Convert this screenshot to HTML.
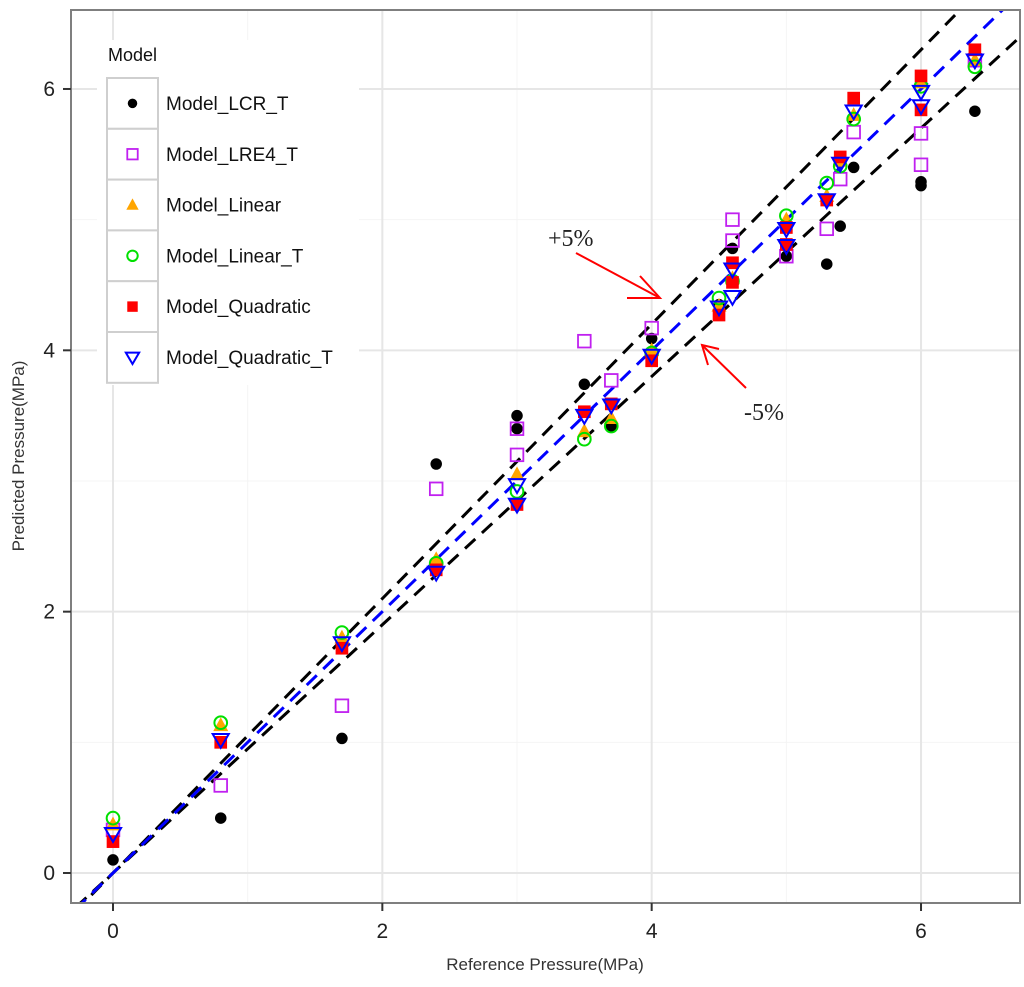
<!DOCTYPE html>
<html><head><meta charset="utf-8"><style>
body{margin:0;background:#fff}
svg{display:block;font-family:"Liberation Sans",sans-serif}
</style></head><body>
<svg id="chart" width="1024" height="987" viewBox="0 0 1024 987" xmlns="http://www.w3.org/2000/svg">
<g id="grid"></g>
<g id="lines"></g>
<g id="pts"></g>
<rect x="71" y="10" width="949" height="893" fill="none" stroke="#7f7f7f" stroke-width="2"/>
<g id="ticks"></g>
<text x="545" y="970" text-anchor="middle" font-size="17" fill="#333">Reference Pressure(MPa)</text>
<text transform="translate(24,456) rotate(-90)" text-anchor="middle" font-size="17" fill="#333">Predicted Pressure(MPa)</text>
<g>
<text x="548" y="246" font-family="Liberation Serif,serif" font-size="24" fill="#222">+5%</text>
<line x1="576" y1="253" x2="660" y2="298" stroke="red" stroke-width="2"/>
<polyline points="640,276 660,298 627,298" fill="none" stroke="red" stroke-width="2"/>
</g>
<g>
<text x="744" y="420" font-family="Liberation Serif,serif" font-size="24" fill="#222">-5%</text>
<line x1="746" y1="388" x2="702" y2="345" stroke="red" stroke-width="2"/>
<polyline points="719,349 702,345 708,365" fill="none" stroke="red" stroke-width="2"/>
</g>
<g id="legend">
<rect x="97" y="40" width="262" height="345" fill="#fff"/>
<text x="108" y="61" font-size="18" fill="#111">Model</text>
</g>
</svg>
<script>
const NS="http://www.w3.org/2000/svg";
const xTicks=[0,2,4,6];
const yTicks=[0,2,4,6];
const seriesNames=["Model_LCR_T","Model_LRE4_T","Model_Linear","Model_Linear_T","Model_Quadratic","Model_Quadratic_T"];
const lcrX=[0,0.8,1.7,2.4,3,3,3.5,3.7,4,4.5,4.6,5,5.3,5.4,5.5,6,6,6.4];
const lcrY=[0.10,0.42,1.03,3.13,3.50,3.40,3.74,3.42,4.09,4.35,4.78,4.72,4.66,4.95,5.40,5.29,5.26,5.83];
const lreX=[0,0.8,1.7,2.4,3,3,3.5,3.7,4,4.6,4.6,5,5.3,5.4,5.5,6,6,6.4];
const lreY=[0.33,0.67,1.28,2.94,3.20,3.40,4.07,3.77,4.17,5.00,4.84,4.72,4.93,5.31,5.67,5.66,5.42,6.22];
const linX=[0,0.8,1.7,2.4,3,3.5,3.7,4,4.5,4.6,5,5.3,5.4,5.5,6,6.4];
const linY=[0.37,1.13,1.80,2.40,3.05,3.38,3.48,4.00,4.34,4.55,5.00,5.18,5.45,5.80,6.05,6.22];
const lintX=[0,0.8,1.7,2.4,3,3.5,3.7,4,4.5,4.6,5,5.3,5.4,5.5,6,6.4];
const lintY=[0.42,1.15,1.84,2.37,2.92,3.32,3.42,3.98,4.40,4.53,5.03,5.28,5.41,5.77,6.02,6.17];
const quadX=[0,0.8,1.7,2.4,3,3.5,3.7,4,4.5,4.6,4.6,5,5,5.3,5.4,5.5,6,6,6.4];
const quadY=[0.24,1.00,1.72,2.32,2.82,3.53,3.59,3.92,4.27,4.67,4.52,4.94,4.81,5.15,5.48,5.93,6.10,5.84,6.30];
const quadtX=[0,0.8,1.7,2.4,3,3,3.5,3.7,4,4.5,4.6,4.6,5,5,5.3,5.4,5.5,6,6,6.4];
const quadtY=[0.30,1.02,1.76,2.30,2.97,2.82,3.50,3.58,3.96,4.33,4.62,4.41,4.93,4.80,5.15,5.43,5.83,5.98,5.87,6.22];
const refSlopes=[1.05,0.95];
const X=v=>113+v*134.67, Y=v=>873-v*130.67;
function mk(tag,attrs,parent){const e=document.createElementNS(NS,tag);for(const k in attrs)e.setAttribute(k,attrs[k]);parent.appendChild(e);return e;}
const grid=document.getElementById('grid');
[1,3,5].forEach(v=>{
 const a=mk('line',{x1:X(v),x2:X(v),y1:10,y2:903,stroke:'#f4f4f4','stroke-width':1},grid);
 
 const b=mk('line',{x1:71,x2:1020,y1:Y(v),y2:Y(v),stroke:'#f4f4f4','stroke-width':1},grid);
 
});
const ticks=document.getElementById('ticks');
xTicks.forEach(v=>{
 const g=mk('line',{x1:X(v),x2:X(v),y1:10,y2:903,stroke:'#e6e6e6','stroke-width':2},grid);
 
 const t=mk('line',{x1:X(v),x2:X(v),y1:903,y2:911,stroke:'#333','stroke-width':2},ticks);
 
 const l=mk('text',{x:X(v),y:938,'text-anchor':'middle','font-size':21,fill:'#222'},ticks);l.textContent=v;
 
});
yTicks.forEach(v=>{
 const g=mk('line',{x1:71,x2:1020,y1:Y(v),y2:Y(v),stroke:'#e6e6e6','stroke-width':2},grid);
 
 const t=mk('line',{x1:63,x2:71,y1:Y(v),y2:Y(v),stroke:'#333','stroke-width':2},ticks);
 
 const l=mk('text',{x:55,y:Y(v)+7,'text-anchor':'end','font-size':21,fill:'#222'},ticks);l.textContent=v;
 
});
const lines=document.getElementById('lines');
const clip=mk('clipPath',{id:'pc'},document.getElementById('chart'));mk('rect',{x:71,y:10,width:949,height:893},clip);
lines.setAttribute('clip-path','url(#pc)');
refSlopes.forEach(s=>{
 const l=mk('line',{x1:X(-0.4),y1:Y(-0.4*s),x2:X(7),y2:Y(7*s),stroke:'#000','stroke-width':3,'stroke-dasharray':'14,9'},lines);
 
});
const idl=mk('line',{x1:X(-0.4),y1:Y(-0.4),x2:X(7),y2:Y(7),stroke:'#0000ff','stroke-width':3,'stroke-dasharray':'14,9'},lines);

function marker(kind,cx,cy,p,s){
 let e;
 if(kind==0)e=mk('circle',{cx,cy,r:5*s,fill:'#000'},p);
 else if(kind==1)e=mk('rect',{x:cx-5.5*s,y:cy-5.5*s,width:11*s,height:11*s,fill:'none',stroke:'#c020f0','stroke-width':1.8},p);
 else if(kind==2)e=mk('polygon',{points:`${cx},${cy-7*s} ${cx-6.5*s},${cy+5*s} ${cx+6.5*s},${cy+5*s}`,fill:'#ffa500'},p);
 else if(kind==3)e=mk('circle',{cx,cy,r:5.5*s,fill:'none',stroke:'#00e000','stroke-width':2},p);
 else if(kind==4)e=mk('rect',{x:cx-5.5*s,y:cy-5.5*s,width:11*s,height:11*s,fill:'#ff0000'},p);
 else e=mk('polygon',{points:`${cx-7*s},${cy-5*s} ${cx+7*s},${cy-5*s} ${cx},${cy+7*s}`,fill:'none',stroke:'#0000ff','stroke-width':2},p);
 return e;
}
const pts=document.getElementById('pts');
const data=[[lcrX,lcrY],[lreX,lreY],[linX,linY],[lintX,lintY],[quadX,quadY],[quadtX,quadtY]];
const pnames=['point-lcr-t','point-lre4-t','point-linear','point-linear-t','point-quadratic','point-quadratic-t'];
data.forEach((d,k)=>{
 d[0].forEach((xv,i)=>{
  const e=marker(k,X(xv),Y(d[1][i]),pts,1.15);
  
  
 });
});
const leg=document.getElementById('legend');
seriesNames.forEach((n,i)=>{
 const y0=78+i*50.8;
 const r=mk('rect',{x:107,y:y0,width:51,height:50.8,fill:'#fff',stroke:'#cfcfcf','stroke-width':2},leg);
 
 const m=marker(i,132.5,y0+25.4,leg,0.95);
 
 const t=mk('text',{x:166,y:y0+32,'font-size':19,fill:'#111'},leg);t.textContent=n;
 
});
</script>
</body></html>
